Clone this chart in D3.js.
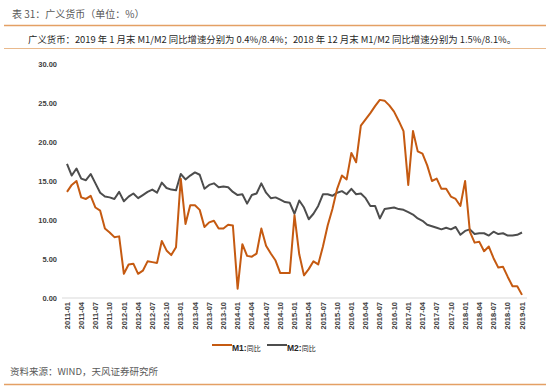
<!DOCTYPE html>
<html>
<head>
<meta charset="utf-8">
<script src="https://cdn.jsdelivr.net/npm/d3@7"></script>
<style>
  body { margin: 0; background: #fff; }
  svg { display: block; }
</style>
</head>
<body>
<div id="chart"></div>
<script>
// 2011-01 .. 2019-01, monthly
const tickLabels = [
  '2011-01','2011-04','2011-07','2011-10','2012-01','2012-04','2012-07','2012-10',
  '2013-01','2013-04','2013-07','2013-10','2014-01','2014-04','2014-07','2014-10',
  '2015-01','2015-04','2015-07','2015-10','2016-01','2016-04','2016-07','2016-10',
  '2017-01','2017-04','2017-07','2017-10','2018-01','2018-04','2018-07','2018-10',
  '2019-01'
];

const m1 = [
  13.6, 14.5, 15.0, 12.9, 12.7, 13.1, 11.6, 11.2, 8.9, 8.4, 7.8, 7.9,
  3.1, 4.3, 4.4, 3.1, 3.5, 4.7, 4.6, 4.5, 7.3, 6.1, 5.5, 6.5,
  15.3, 9.5, 11.9, 11.9, 11.3, 9.1, 9.7, 9.9, 8.9, 8.9, 9.4, 9.3,
  1.2, 6.9, 5.4, 5.3, 5.7, 8.9, 6.7, 5.7, 4.8, 3.2, 3.2, 3.2,
  10.6, 5.6, 2.9, 3.7, 4.7, 4.3, 6.6, 9.3, 11.4, 14.0, 15.7, 15.2,
  18.6, 17.4, 22.1, 22.9, 23.7, 24.6, 25.4, 25.3, 24.7, 23.9, 22.7, 21.4,
  14.5, 21.4, 18.8, 18.5, 17.0, 15.0, 15.3, 14.0, 14.0, 13.0, 12.7, 11.8,
  15.0, 8.5, 7.1, 7.2, 6.0, 6.6, 5.1, 3.9, 4.0, 2.7, 1.5, 1.5,
  0.4
];

const m2 = [
  17.2, 15.7, 16.6, 15.3, 15.1, 15.9, 14.7, 13.5, 13.0, 12.9, 12.7, 13.6,
  12.4, 13.0, 13.4, 12.8, 13.2, 13.6, 13.9, 13.5, 14.8, 14.1, 13.9, 13.8,
  15.9, 15.2, 15.7, 16.1, 15.8, 14.0, 14.5, 14.7, 14.2, 14.3, 14.2, 13.6,
  13.2, 13.3, 12.1, 13.2, 13.4, 14.7, 13.5, 12.8, 12.9, 12.6, 12.3, 12.2,
  10.8, 12.5, 11.6, 10.1, 10.8, 11.8, 13.3, 13.3, 13.1, 13.5, 13.7, 13.3,
  14.0, 13.3, 13.4, 12.8, 11.8, 11.8, 10.2, 11.4, 11.5, 11.6, 11.4, 11.3,
  11.0, 10.7, 10.2, 9.9, 9.4, 9.2, 9.0, 8.8, 9.0, 8.8, 9.1, 8.1,
  8.6, 8.8, 8.2, 8.3, 8.3, 8.0, 8.5, 8.2, 8.3, 8.0, 8.0, 8.1,
  8.4
];

const yTicks = [0, 5, 10, 15, 20, 25, 30];

const width = 550, height = 387;
const orange = '#c55a11', grey = '#4d4d4d';
const cjk = '"Noto Sans CJK SC", sans-serif';
const latin = '"Liberation Sans", Arial, sans-serif';

const svg = d3.select('#chart').append('svg')
    .attr('width', width)
    .attr('height', height);

// header
svg.append('text')
    .attr('x', 12).attr('y', 18)
    .attr('font-family', cjk).attr('font-size', 10)
    .attr('fill', '#595959')
    .text('表 31：广义货币（单位：%）');

svg.append('line')
    .attr('x1', 4).attr('x2', 546).attr('y1', 25.5).attr('y2', 25.5)
    .attr('stroke', '#e4a064').attr('stroke-width', 1.5);

svg.append('text')
    .attr('x', 28).attr('y', 43)
    .attr('font-family', cjk).attr('font-size', 9.4)
    .attr('fill', '#262626')
    .text('广义货币：2019 年 1 月末 M1/M2 同比增速分别为 0.4%/8.4%；2018 年 12 月末 M1/M2 同比增速分别为 1.5%/8.1%。');

svg.append('line')
    .attr('x1', 4).attr('x2', 546).attr('y1', 48.5).attr('y2', 48.5)
    .attr('stroke', '#e9b98c').attr('stroke-width', 1);

// scales
const x = d3.scaleLinear().domain([0, m1.length - 1]).range([67, 522]);
const y = d3.scaleLinear().domain([0, 30]).range([298, 64]);

// y axis labels
svg.append('g')
    .attr('transform', 'translate(62,0)')
    .call(d3.axisLeft(y).tickValues(yTicks).tickSize(0).tickPadding(5).tickFormat(d3.format('.2f')))
    .call(g => g.select('.domain').remove())
    .call(g => g.selectAll('text')
        .attr('font-family', latin).attr('font-size', 7.5).attr('font-weight', 'bold')
        .attr('fill', '#404040'));

// x axis
const xAxis = svg.append('g').attr('transform', 'translate(0,298)');
xAxis.append('line')
    .attr('x1', 62).attr('x2', 527)
    .attr('stroke', '#d9d9d9').attr('stroke-width', 1);
xAxis.selectAll('text')
    .data(tickLabels)
    .join('text')
    .attr('transform', (d, i) => `translate(${x(i * 3)},4) rotate(-90)`)
    .attr('dy', '0.35em')
    .attr('text-anchor', 'end')
    .attr('font-family', latin).attr('font-size', 7.5).attr('font-weight', 'bold')
    .attr('fill', '#404040')
    .text(d => d);

// lines
const line = d3.line().x((d, i) => x(i)).y(d => y(d));

svg.append('path')
    .datum(m2)
    .attr('fill', 'none')
    .attr('stroke', grey).attr('stroke-width', 2)
    .attr('stroke-linejoin', 'round')
    .attr('d', line);

svg.append('path')
    .datum(m1)
    .attr('fill', 'none')
    .attr('stroke', orange).attr('stroke-width', 2)
    .attr('stroke-linejoin', 'round')
    .attr('d', line);

// legend
const legend = [
  { name: 'M1', color: orange, x: 212 },
  { name: 'M2', color: grey, x: 267 }
];
const lg = svg.append('g').attr('transform', 'translate(0,345)');
legend.forEach(s => {
  lg.append('line')
      .attr('x1', s.x).attr('x2', s.x + 20)
      .attr('stroke', s.color).attr('stroke-width', 2);
  const t = lg.append('text')
      .attr('x', s.x + 20).attr('dy', '0.35em')
      .attr('fill', '#262626');
  t.append('tspan')
      .attr('font-family', latin).attr('font-size', 8.5).attr('font-weight', 'bold')
      .text(s.name + ':');
  t.append('tspan')
      .attr('font-family', cjk).attr('font-size', 7)
      .text('同比');
});

// footer
svg.append('text')
    .attr('x', 10).attr('y', 375)
    .attr('font-family', cjk).attr('font-size', 9.5)
    .attr('fill', '#595959')
    .text('资料来源：WIND，天风证券研究所');

svg.append('line')
    .attr('x1', 4).attr('x2', 546).attr('y1', 384.5).attr('y2', 384.5)
    .attr('stroke', '#e4a064').attr('stroke-width', 1.5);
</script>
</body>
</html>
